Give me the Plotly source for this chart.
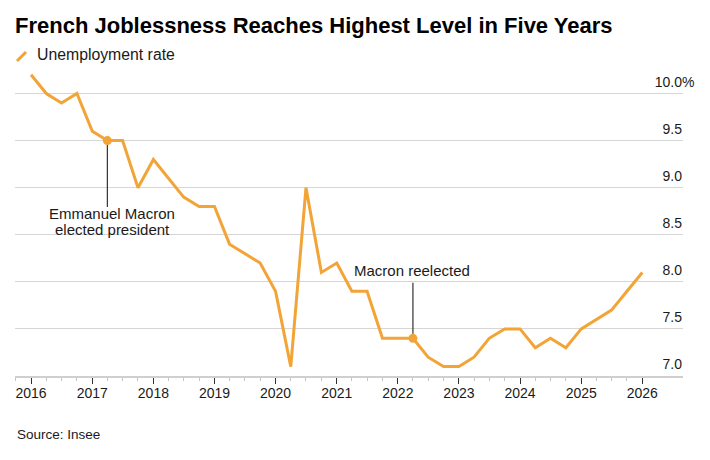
import plotly.graph_objects as go

# ---------------- data ----------------
quarters = [
    "2016-01-01", "2016-04-01", "2016-07-01", "2016-10-01",
    "2017-01-01", "2017-04-01", "2017-07-01", "2017-10-01",
    "2018-01-01", "2018-04-01", "2018-07-01", "2018-10-01",
    "2019-01-01", "2019-04-01", "2019-07-01", "2019-10-01",
    "2020-01-01", "2020-04-01", "2020-07-01", "2020-10-01",
    "2021-01-01", "2021-04-01", "2021-07-01", "2021-10-01",
    "2022-01-01", "2022-04-01", "2022-07-01", "2022-10-01",
    "2023-01-01", "2023-04-01", "2023-07-01", "2023-10-01",
    "2024-01-01", "2024-04-01", "2024-07-01", "2024-10-01",
    "2025-01-01", "2025-04-01", "2025-07-01", "2025-10-01",
    "2026-01-01",
]
unemployment_rate = [
    10.2, 10.0, 9.9, 10.0,
    9.6, 9.5, 9.5, 9.0,
    9.3, 9.1, 8.9, 8.8,
    8.8, 8.4, 8.3, 8.2,
    7.9, 7.1, 9.0, 8.1,
    8.2, 7.9, 7.9, 7.4,
    7.4, 7.4, 7.2, 7.1,
    7.1, 7.2, 7.4, 7.5,
    7.5, 7.3, 7.4, 7.3,
    7.5, 7.6, 7.7, 7.9,
    8.1,
]
event_dates = ["2017-04-01", "2022-04-01"]
event_values = [9.5, 7.4]

y_tickvals = [7.0, 7.5, 8.0, 8.5, 9.0, 9.5, 10.0]
y_ticktext = ["7.0", "7.5", "8.0", "8.5", "9.0", "9.5", "10.0"]

title_text = "French Joblessness Reaches Highest Level in Five Years"
legend_text = "Unemployment rate"
source_text = "Source: Insee"

# ---------------- style ----------------
ORANGE = "#F2A437"
TEXT = "#1a1a1a"
GRID = "#d6d6d6"
FONT = "Liberation Sans, Arial, sans-serif"

W, H = 710, 460
OFF = 8  # page offset of the figure inside the browser window
# plot area in page pixels: x 15..683, y 70..376
ML = 15 - OFF
MT = 70 - OFF
MR = W - (683 - OFF)
MB = H - (376 - OFF)
PW, PH = W - ML - MR, H - MT - MB


def px(x):
    """page pixel x -> paper fraction"""
    return (x - OFF - ML) / PW


def py(y):
    """page pixel y -> paper fraction"""
    return (H - MB - (y - OFF)) / PH


fig = go.Figure()

fig.add_trace(go.Scatter(
    x=quarters, y=unemployment_rate, mode="lines",
    line=dict(color=ORANGE, width=3), showlegend=False, hoverinfo="skip",
))
fig.add_trace(go.Scatter(
    x=event_dates, y=event_values, mode="markers",
    marker=dict(color=ORANGE, size=9), showlegend=False, hoverinfo="skip",
))

ann_font = dict(family=FONT, size=15, color=TEXT)
annotations = [
    # connector lines
    dict(x=event_dates[0], y=event_values[0], xref="x", yref="y", text="",
         showarrow=True, arrowhead=0, arrowwidth=1.2, arrowcolor="#333",
         ax=0, ay=68, standoff=4.5),
    dict(x=event_dates[1], y=event_values[1], xref="x", yref="y", text="",
         showarrow=True, arrowhead=0, arrowwidth=1.2, arrowcolor="#333",
         ax=0, ay=-57, standoff=4.5),
    # labels
    dict(x=event_dates[0], y=event_values[0], xref="x", yref="y",
         text="Emmanuel Macron", showarrow=False, font=ann_font,
         xshift=5, yshift=-73, xanchor="center", yanchor="middle"),
    dict(x=event_dates[0], y=event_values[0], xref="x", yref="y",
         text="elected president", showarrow=False, font=ann_font,
         xshift=5, yshift=-89, xanchor="center", yanchor="middle"),
    dict(x=event_dates[1], y=event_values[1], xref="x", yref="y",
         text="Macron reelected", showarrow=False, font=ann_font,
         xshift=-1, yshift=68, xanchor="center", yanchor="middle"),
    # percent sign hanging after the top tick label
    dict(x=1, y=10.0, xref="paper", yref="y", text="%", showarrow=False,
         font=dict(family=FONT, size=14, color=TEXT),
         xanchor="left", yanchor="middle", xshift=-3, yshift=12),
    # legend text
    dict(x=px(35), y=py(55), xref="paper", yref="paper", text=legend_text,
         showarrow=False, font=dict(family=FONT, size=15.8, color=TEXT),
         xanchor="left", yanchor="middle"),
    # source
    dict(x=px(15), y=py(434), xref="paper", yref="paper", text=source_text,
         showarrow=False, font=dict(family=FONT, size=13.5, color=TEXT),
         xanchor="left", yanchor="middle"),
]

shapes = [
    dict(type="line", xref="paper", yref="paper",
         x0=px(17), y0=py(61), x1=px(26), y1=py(52),
         line=dict(color=ORANGE, width=3)),
]

fig.update_layout(
    width=W, height=H,
    margin=dict(l=ML, r=MR, t=MT, b=MB, pad=0),
    paper_bgcolor="white", plot_bgcolor="white",
    font=dict(family=FONT, color=TEXT),
    title=dict(text=f"<b>{title_text}</b>", xref="container", yref="container",
               x=(15 - OFF) / W, y=1 - (25 - OFF) / H,
               xanchor="left", yanchor="middle",
               font=dict(family=FONT, size=22, color="#000")),
    annotations=annotations,
    shapes=shapes,
    showlegend=False,
)

fig.update_xaxes(
    type="date",
    range=["2015-09-27", "2026-09-01"],
    dtick="M12", tick0="2016-01-01", tickformat="%Y",
    ticks="outside", ticklen=6, tickwidth=1, tickcolor="#333",
    showline=True, linecolor="#cfcfcf", linewidth=1.5,
    showgrid=False, zeroline=False,
    ticklabelstandoff=-3,
    tickfont=dict(family=FONT, size=14, color=TEXT),
    minor=dict(dtick="M3", tick0="2016-01-01", ticks="outside",
               ticklen=3, tickwidth=1, tickcolor="#c4c4c4", showgrid=False),
)

fig.update_yaxes(
    range=[7.0, 10.25],
    side="right",
    tickvals=y_tickvals, ticktext=y_ticktext,
    ticklabelposition="inside top",
    ticklabelstandoff=-2,
    ticklabelshift=-2,
    ticks="", showline=False, zeroline=False,
    showgrid=True, gridcolor=GRID, gridwidth=1.2,
    tickfont=dict(family=FONT, size=14, color=TEXT),
)

fig.write_html("out.html")
